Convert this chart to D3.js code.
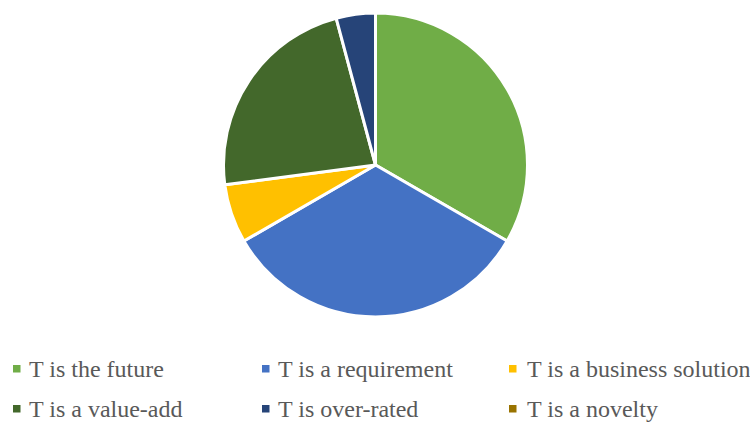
<!DOCTYPE html>
<html>
<head>
<meta charset="utf-8">
<script src="https://cdn.jsdelivr.net/npm/d3@7"></script>
</head>
<body style="margin:0; background:#fff">
<svg id="chart" width="750" height="423" style="display:block"></svg>
<script>
// Survey responses per statement
const categories = ["T is the future", "T is a requirement", "T is a business solution",
                    "T is a value-add", "T is over-rated", "T is a novelty"];
const counts = [16, 16, 3, 11, 2, 0];
const colors = ["#70AD47", "#4472C4", "#FFC000", "#43682B", "#264478", "#997300"];

const svg = d3.select("#chart")
  .style("font-family", '"Liberation Serif", "Times New Roman", serif');
const cx = 375.5, cy = 165, radius = 152;

const pie = d3.pie().sort(null).value(d => d.value);
const arc = d3.arc().innerRadius(0).outerRadius(radius);
const color = d3.scaleOrdinal().domain(categories).range(colors);

const data = categories.map((c, i) => ({ name: c, value: counts[i] }));

svg.append("g")
  .attr("transform", `translate(${cx},${cy})`)
  .selectAll("path")
  .data(pie(data).filter(d => d.data.value > 0))
  .join("path")
  .attr("d", arc)
  .attr("fill", d => color(d.data.name))
  .attr("stroke", "#fff")
  .attr("stroke-width", 3)
  .attr("stroke-linejoin", "miter");

// Legend: two rows of three entries
const markerX = [13, 262, 509];
const textX = [29, 278, 527];
const baseY = [377, 417];
categories.forEach((c, i) => {
  const col = i % 3, row = Math.floor(i / 3);
  svg.append("rect")
    .attr("x", markerX[col]).attr("y", baseY[row] - 12)
    .attr("width", 7.5).attr("height", 7.5)
    .attr("fill", color(c));
  svg.append("text")
    .attr("x", textX[col]).attr("y", baseY[row])
    .style("font-size", "24px")
    .style("fill", "#595959")
    .text(c);
});
</script>
</body>
</html>
